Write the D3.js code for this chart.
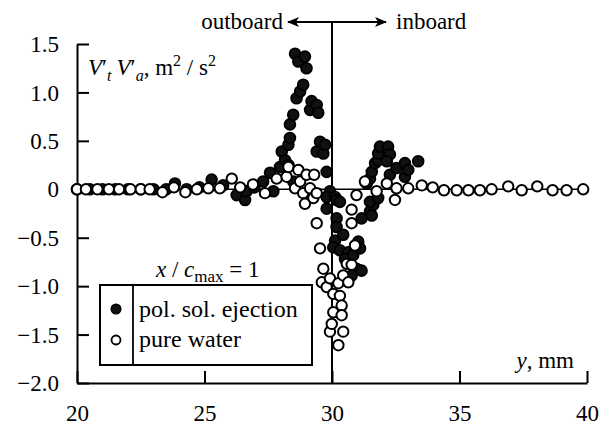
<!DOCTYPE html>
<html><head><meta charset="utf-8">
<script src="https://cdn.jsdelivr.net/npm/d3@7"></script>
<style>
html,body{margin:0;padding:0;background:#fff;}
svg{display:block;font-family:"Liberation Serif","Times New Roman",serif;}
</style></head>
<body><svg id="c" width="614" height="427"></svg>
<script>
const xTicks = [20, 25, 30, 35, 40];
const yTicks = [-2, -1.5, -1, -0.5, 0, 0.5, 1, 1.5];

// pol. sol. ejection (filled)
const polX = [20.0,20.5,21.0,21.5,22.0,22.5,23.0,23.5,23.84,24.3,24.8,25.28,25.73,26.26,26.59,26.65,26.95,27.3,27.57,27.7,27.96,28.03,28.16,28.29,28.29,28.35,28.35,28.48,28.48,28.61,28.75,28.87,28.55,28.68,28.94,29.0,29.14,29.2,29.4,29.46,29.4,29.53,29.66,29.73,29.79,29.92,29.79,29.79,30.12,30.18,30.18,30.18,30.31,30.12,30.05,30.44,30.31,30.64,30.51,30.83,31.03,30.96,31.16,30.77,31.1,31.16,31.49,31.62,31.49,31.81,31.56,31.36,31.49,31.56,31.69,31.81,31.81,31.88,32.2,32.27,32.15,32.27,32.53,32.86,32.86,32.99,33.38];
const polY = [0,0,0,0,0,0,0,0,0.06,0,0.02,0.1,0.04,-0.06,-0.11,-0.02,0.02,0.08,0.17,-0.02,0.23,0.39,0.30,0.46,0.25,0.53,0.67,0.77,0.08,0.94,1.01,1.08,1.40,1.32,1.37,1.25,0.82,0.91,0.87,0.79,0.39,0.49,0.37,0.46,0.18,-0.02,-0.08,-0.2,-0.08,-0.11,-0.3,-0.39,-0.13,-0.53,-0.6,-0.47,-0.63,-0.65,-0.72,-0.68,-0.54,-0.82,-0.84,-0.89,-0.61,-0.3,-0.23,-0.16,-0.13,-0.09,-0.27,0.06,0.11,0.18,0.27,0.30,0.37,0.44,0.44,0.36,0.29,0.15,0.22,0.27,0.13,0.2,0.29];

// pure water (open)
const waterX = [20.0,20.35,20.8,21.25,21.65,22.1,22.5,22.85,23.35,23.8,24.25,24.7,25.15,25.6,26.07,26.4,26.9,27.37,27.83,28.22,28.29,28.55,28.68,28.75,28.87,28.94,29.0,29.14,29.27,29.3,29.4,29.4,29.53,29.66,29.6,29.79,29.92,29.92,29.99,30.05,30.05,30.25,30.25,30.31,30.38,30.38,30.44,30.44,30.58,30.64,30.77,30.9,30.77,30.77,30.96,31.29,31.75,32.15,32.47,32.53,32.99,33.52,33.95,34.39,34.89,35.35,35.8,36.26,36.91,37.44,38.05,38.65,39.2,39.85];
const waterY = [0,0,0,0,0,0,0,0,-0.03,0.02,-0.03,0,0.01,0.01,0.11,0.02,0.05,-0.04,0.11,0.13,0.23,0.01,0.20,0.08,-0.04,-0.15,0.15,0.01,-0.09,0.15,-0.04,-0.35,-0.61,-0.82,-0.96,-1.01,-0.92,-1.47,-1.39,-1.08,-1.27,-0.97,-1.61,-1.10,-1.20,-1.30,-0.89,-1.47,-0.77,-0.96,-0.78,-0.58,-0.35,-0.21,-0.06,0.08,-0.02,0.06,-0.11,0.01,0.01,0.04,0.02,-0.01,-0.01,-0.01,-0.01,0,0.03,-0.01,0.03,-0.01,-0.01,0];

const svg = d3.select("#c");
const x = d3.scaleLinear().domain([20, 40]).range([77, 587]);
const y = d3.scaleLinear().domain([-2, 1.5]).range([383, 44]);
const fmt = v => v === 0 ? "0" : d3.format(".1f")(v);
const FS = 23;

// zero line
svg.append("line").attr("x1", x(20)).attr("x2", x(40)).attr("y1", y(0)).attr("y2", y(0))
  .attr("stroke", "#000").attr("stroke-width", 1.5);

// vertical line at 30 and arrow
svg.append("line").attr("x1", x(30)).attr("x2", x(30)).attr("y1", 22).attr("y2", y(-2))
  .attr("stroke", "#000").attr("stroke-width", 2);
const defs = svg.append("defs");
defs.append("marker").attr("id", "ah").attr("viewBox", "0 0 12 10").attr("refX", 11).attr("refY", 5)
  .attr("markerWidth", 12).attr("markerHeight", 10).attr("markerUnits", "userSpaceOnUse").attr("orient", "auto-start-reverse")
  .append("path").attr("d", "M0,0 L12,5 L0,10 L3,5 Z").attr("fill", "#000");
svg.append("line").attr("x1", 288).attr("x2", 386).attr("y1", 22).attr("y2", 22)
  .attr("stroke", "#000").attr("stroke-width", 1.8)
  .attr("marker-start", "url(#ah)").attr("marker-end", "url(#ah)");
svg.append("text").attr("x", 283).attr("y", 29).attr("text-anchor", "end").attr("font-size", FS).text("outboard");
svg.append("text").attr("x", 396).attr("y", 29).attr("font-size", FS).text("inboard");

// axes
const ax = svg.append("g").attr("transform", `translate(0,${y(-2)})`)
  .call(d3.axisBottom(x).tickValues(xTicks).tickSize(-12).tickSizeOuter(0).tickPadding(22).tickFormat(d3.format("d")));
const ay = svg.append("g").attr("transform", `translate(${x(20)},0)`)
  .call(d3.axisLeft(y).tickValues(yTicks).tickSize(-12).tickSizeOuter(0).tickPadding(18).tickFormat(fmt));
[ax, ay].forEach(g => {
  g.selectAll("path,line").attr("stroke", "#000").attr("stroke-width", 2);
  g.selectAll("text").attr("font-size", FS).attr("font-family", "Liberation Serif").attr("fill", "#000");
});
ay.selectAll("text").attr("dy", "0.33em");

// data: filled first, open on top
svg.append("g").selectAll("circle").data(polX).join("circle")
  .attr("cx", (d) => x(d)).attr("cy", (d, i) => y(polY[i])).attr("r", 5.4)
  .attr("fill", "#111").attr("stroke", "#000").attr("stroke-width", 1.8);
svg.append("g").selectAll("circle").data(waterX).join("circle")
  .attr("cx", (d) => x(d)).attr("cy", (d, i) => y(waterY[i])).attr("r", 5.2)
  .attr("fill", "#fff").attr("stroke", "#000").attr("stroke-width", 2);

// y label (one text element, subscripts/superscripts as shifted runs)
const yl = svg.append("text").attr("x", 88).attr("y", 75).attr("font-size", FS);
yl.append("tspan").attr("font-style", "italic").text("V");
yl.append("tspan").text("′");
yl.append("tspan").attr("font-style", "italic").attr("font-size", 16).attr("dy", 6).text("t");
yl.append("tspan").attr("font-style", "italic").attr("dx", 5).attr("dy", -6).text("V");
yl.append("tspan").text("′");
yl.append("tspan").attr("font-style", "italic").attr("font-size", 16).attr("dy", 6).text("a");
yl.append("tspan").attr("dy", -6).text(", m");
yl.append("tspan").attr("font-size", 16).attr("dy", -9).text("2");
yl.append("tspan").attr("dy", 9).text(" / s");
yl.append("tspan").attr("font-size", 16).attr("dy", -9).text("2");

// x label
const xl = svg.append("text").attr("x", 574).attr("y", 368).attr("text-anchor", "end").attr("font-size", FS);
xl.append("tspan").attr("font-style", "italic").text("y");
xl.append("tspan").text(", mm");

// x/cmax = 1
const ct = svg.append("text").attr("x", 156).attr("y", 277).attr("font-size", FS);
ct.append("tspan").attr("font-style", "italic").text("x");
ct.append("tspan").text(" / ");
ct.append("tspan").attr("font-style", "italic").text("c");
ct.append("tspan").attr("font-size", 17).attr("dy", 5).text("max");
ct.append("tspan").attr("dy", -5).text(" = 1");

// legend
const lg = svg.append("g");
lg.append("rect").attr("x", 100).attr("y", 285).attr("width", 212).attr("height", 80)
  .attr("fill", "#fff").attr("stroke", "#000").attr("stroke-width", 2);
lg.append("line").attr("x1", 133).attr("x2", 133).attr("y1", 285).attr("y2", 365).attr("stroke", "#000").attr("stroke-width", 1.8);
lg.append("circle").attr("cx", 116).attr("cy", 309).attr("r", 4.8).attr("fill", "#111").attr("stroke", "#000").attr("stroke-width", 1.5);
lg.append("circle").attr("cx", 116).attr("cy", 340).attr("r", 4.5).attr("fill", "#fff").attr("stroke", "#000").attr("stroke-width", 1.8);
lg.append("text").attr("x", 139).attr("y", 317).attr("font-size", 24).text("pol. sol. ejection");
lg.append("text").attr("x", 139).attr("y", 347).attr("font-size", 24).text("pure water");
</script></body></html>
